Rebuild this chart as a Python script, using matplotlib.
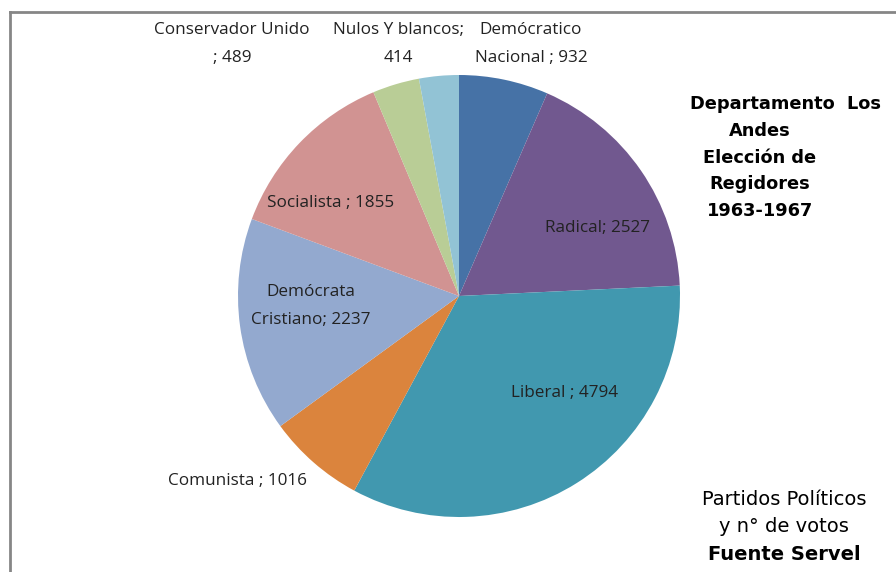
import matplotlib

matplotlib.use("Agg")
import matplotlib.pyplot as plt

partidos = ["Demócratico Nacional", "Radical", "Liberal", "Comunista",
            "Demócrata Cristiano", "Socialista", "Conservador Unido",
            "Nulos Y blancos"]
votos = [932, 2527, 4794, 1016, 2237, 1855, 489, 414]
colores = ["#4672A6", "#71588F", "#4198AF", "#DB843D",
           "#93A9CF", "#D19392", "#B9CD96", "#92C3D5"]

# textos de etiqueta tal como aparecen en el gráfico
etiquetas = ["Demócratico\nNacional ; 932", "Radical; 2527", "Liberal ; 4794",
             "Comunista ; 1016", "Demócrata\nCristiano; 2237",
             "Socialista ; 1855", "Conservador Unido\n; 489",
             "Nulos Y blancos;\n414"]
# posición de cada etiqueta en píxeles (x, y desde arriba)
pos_etiquetas = [(531, 44), (597, 228), (565, 393), (237, 481),
                 (311, 306), (331, 203), (232, 44), (398, 44)]

W, H = 896, 572
figura = plt.figure(figsize=(W / 100, H / 100), dpi=100)

cx, cy, r = 459, 296, 221
eje = figura.add_axes([(cx - r) / W, (H - cy - r) / H, 2 * r / W, 2 * r / H])
eje.pie(votos, colors=colores, startangle=90, counterclock=False,
        radius=1, wedgeprops={"linewidth": 0})
eje.set_xlim(-1, 1)
eje.set_ylim(-1, 1)
eje.set_aspect("equal")
eje.set_axis_off()

fuente = "Open Sans"
for texto, (px, py) in zip(etiquetas, pos_etiquetas):
    figura.text(px / W, 1 - py / H, texto, ha="center", va="center",
                fontsize=12.3, family=fuente, color="#222222",
                linespacing=1.95)

figura.text(785 / W, 1 - 104 / H, "Departamento  Los", ha="center",
            va="center", fontsize=12.8, fontweight="bold", family="DejaVu Sans")
figura.text(760 / W, 1 - 171 / H, "Andes\nElección de\nRegidores\n1963-1967",
            ha="center", va="center", fontsize=12.8, fontweight="bold",
            family="DejaVu Sans", linespacing=1.62)
figura.text(784 / W, 1 - 513 / H, "Partidos Políticos\ny n° de votos",
            ha="center", va="center", fontsize=14, family="DejaVu Sans",
            linespacing=1.5)
figura.text(784 / W, 1 - 555 / H, "Fuente Servel", ha="center",
            va="center", fontsize=14, fontweight="bold", family="DejaVu Sans")

# borde del área del gráfico
figura.add_artist(plt.Line2D([10 / W, 10 / W], [0, 1 - 12 / H],
                             color="#868686", linewidth=2))
figura.add_artist(plt.Line2D([10 / W, 895 / W], [1 - 12 / H, 1 - 12 / H],
                             color="#868686", linewidth=2))

figura.savefig("out.png", dpi=100)
plt.close(figura)
